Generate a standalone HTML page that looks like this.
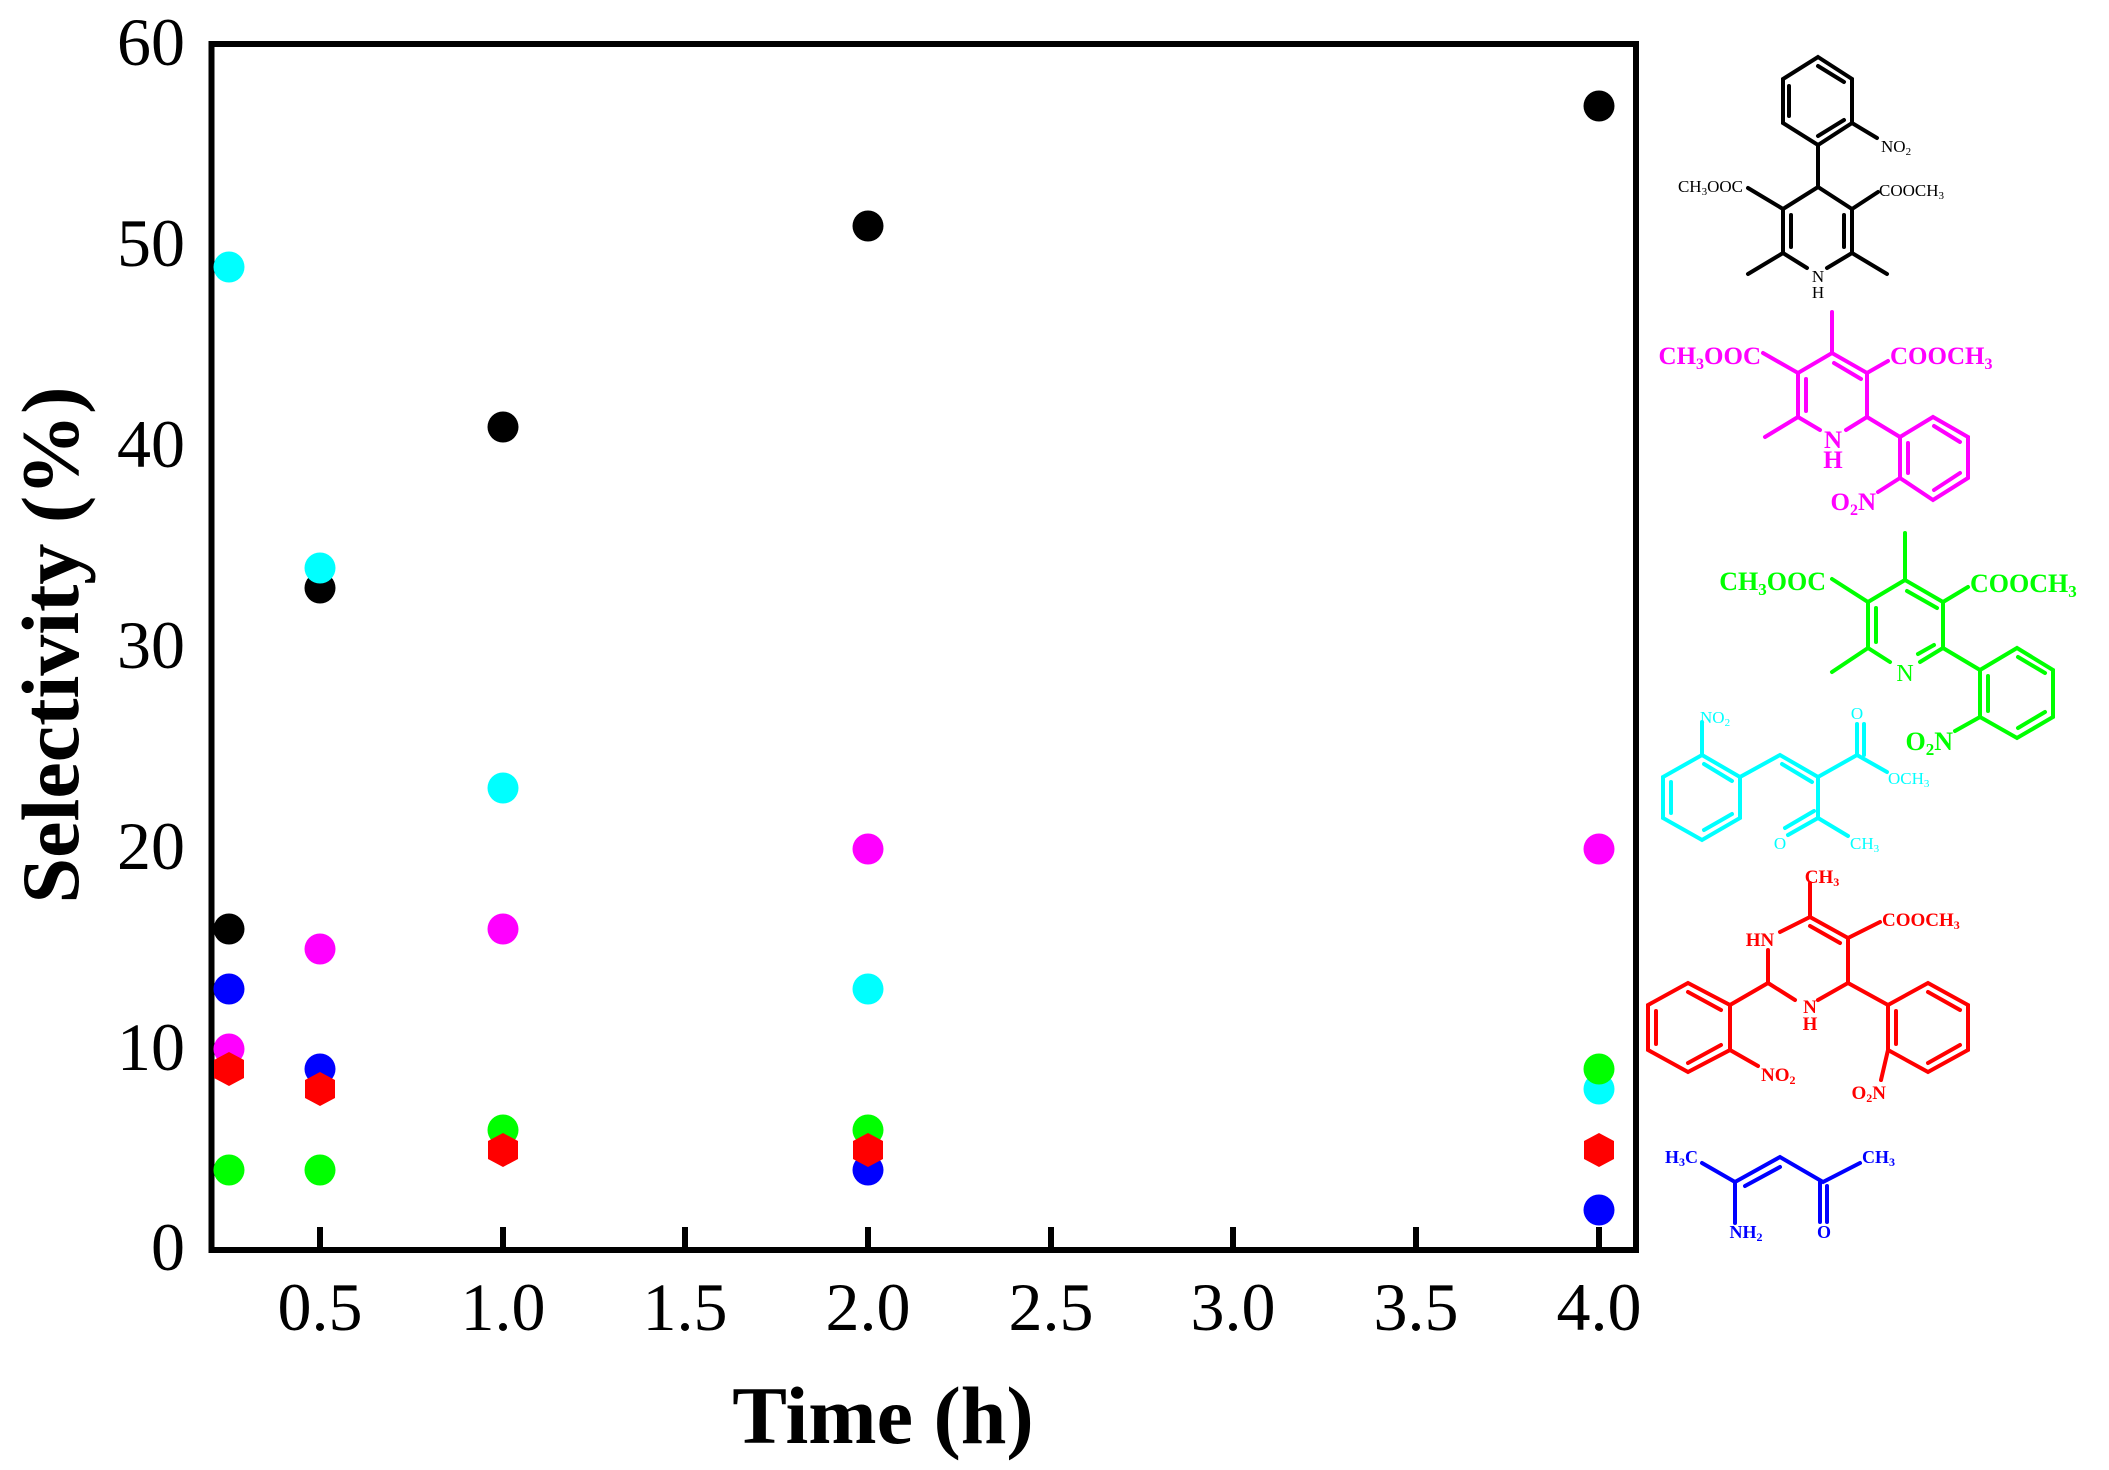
<!DOCTYPE html>
<html><head><meta charset="utf-8"><style>
html,body{margin:0;padding:0;background:#fff;}
svg{display:block;}
text{font-family:"Liberation Serif",serif;}
</style></head><body>
<svg width="2109" height="1470" viewBox="0 0 2109 1470" xmlns="http://www.w3.org/2000/svg">
<!-- axes frame -->
<rect x="211.5" y="44" width="1424.5" height="1206" fill="none" stroke="#000" stroke-width="6"/>
<!-- x ticks -->
<g stroke="#000" stroke-width="6">
<line x1="320" y1="1247" x2="320" y2="1227"/>
<line x1="503" y1="1247" x2="503" y2="1227"/>
<line x1="685" y1="1247" x2="685" y2="1227"/>
<line x1="868" y1="1247" x2="868" y2="1227"/>
<line x1="1051" y1="1247" x2="1051" y2="1227"/>
<line x1="1233" y1="1247" x2="1233" y2="1227"/>
<line x1="1416" y1="1247" x2="1416" y2="1227"/>
<line x1="1599" y1="1247" x2="1599" y2="1227"/>
</g>
<!-- x tick labels -->
<g font-size="68" text-anchor="middle">
<text x="320" y="1330">0.5</text>
<text x="503" y="1330">1.0</text>
<text x="685" y="1330">1.5</text>
<text x="868" y="1330">2.0</text>
<text x="1051" y="1330">2.5</text>
<text x="1233" y="1330">3.0</text>
<text x="1416" y="1330">3.5</text>
<text x="1599" y="1330">4.0</text>
</g>
<!-- y tick labels -->
<g font-size="68" text-anchor="end">
<text x="185" y="1270">0</text>
<text x="185" y="1070">10</text>
<text x="185" y="869">20</text>
<text x="185" y="668">30</text>
<text x="185" y="467">40</text>
<text x="185" y="266">50</text>
<text x="185" y="65">60</text>
</g>
<text x="883" y="1443" font-size="82" font-weight="bold" text-anchor="middle">Time (h)</text>
<text transform="translate(78,645) rotate(-90)" font-size="82" font-weight="bold" text-anchor="middle">Selectivity (%)</text>

<!-- data: y(v)=1250-20.07v ; x: 0.25=229,0.5=320,1=503,2=868,4=1599 -->
<g>
<!-- black -->
<g fill="#000">
<circle cx="229" cy="929" r="15.5"/><circle cx="320" cy="588" r="15.5"/><circle cx="503" cy="427" r="15.5"/><circle cx="868" cy="226" r="15.5"/><circle cx="1599" cy="106" r="15.5"/>
</g>
<!-- cyan -->
<g fill="#00ffff">
<circle cx="229" cy="267" r="15.5"/><circle cx="320" cy="568" r="15.5"/><circle cx="503" cy="788" r="15.5"/><circle cx="868" cy="989" r="15.5"/><circle cx="1599" cy="1089" r="15.5"/>
</g>
<!-- magenta -->
<g fill="#ff00ff">
<circle cx="229" cy="1049" r="15.5"/><circle cx="320" cy="949" r="15.5"/><circle cx="503" cy="929" r="15.5"/><circle cx="868" cy="849" r="15.5"/><circle cx="1599" cy="849" r="15.5"/>
</g>
<!-- blue -->
<g fill="#0000ff">
<circle cx="229" cy="989" r="15.5"/><circle cx="320" cy="1069" r="15.5"/><circle cx="868" cy="1170" r="15.5"/><circle cx="1599" cy="1210" r="15.5"/>
</g>
<!-- green -->
<g fill="#00ff00">
<circle cx="229" cy="1170" r="15.5"/><circle cx="320" cy="1170" r="15.5"/><circle cx="503" cy="1130" r="15.5"/><circle cx="868" cy="1130" r="15.5"/><circle cx="1599" cy="1069" r="15.5"/>
</g>
<!-- red hexagons -->
<g fill="#ff0000">
<polygon points="229,1052 244,1060 244,1078 229,1086 214,1078 214,1060"/>
<polygon points="320,1072 335,1080 335,1098 320,1106 305,1098 305,1080"/>
<polygon points="503,1133 518,1141 518,1159 503,1167 488,1159 488,1141"/>
<polygon points="868,1133 883,1141 883,1159 868,1167 853,1159 853,1141"/>
<polygon points="1599,1133 1614,1141 1614,1159 1599,1167 1584,1159 1584,1141"/>
</g>
</g>

<!-- BLACK structure -->
<g stroke="#000" stroke-width="4" fill="none" stroke-linecap="round">
<polygon points="1818,57 1852,79 1852,123 1818,145 1783,123 1783,79"/>
<line x1="1789" y1="86" x2="1789" y2="116"/><line x1="1818" y1="66" x2="1844" y2="82"/><line x1="1818" y1="136" x2="1844" y2="120"/>
<line x1="1852" y1="123" x2="1877" y2="138"/>
<line x1="1818" y1="145" x2="1818" y2="187"/>
<polyline points="1748,188 1783,209 1818,187 1852,209 1878,192"/>
<line x1="1783" y1="209" x2="1783" y2="253"/><line x1="1791" y1="215" x2="1791" y2="247"/>
<line x1="1852" y1="209" x2="1852" y2="253"/><line x1="1844" y1="215" x2="1844" y2="247"/>
<polyline points="1748,274 1783,253 1807,268"/>
<polyline points="1887,274 1852,253 1827,268"/>
</g>
<g fill="#000" font-size="17">
<text x="1881" y="152">NO<tspan font-size="11" dy="3">2</tspan></text>
<text x="1743" y="192" text-anchor="end">CH<tspan font-size="11" dy="3">3</tspan><tspan dy="-3">OOC</tspan></text>
<text x="1879" y="196">COOCH<tspan font-size="11" dy="3">3</tspan></text>
<text x="1818" y="282" text-anchor="middle">N</text>
<text x="1818" y="298" text-anchor="middle">H</text>
</g>

<!-- MAGENTA structure -->
<g stroke="#ff00ff" stroke-width="4" fill="none" stroke-linecap="round">
<line x1="1832" y1="312" x2="1832" y2="353"/>
<polyline points="1763,353 1798,373 1832,353 1867,373 1888,361"/>
<line x1="1834" y1="363" x2="1861" y2="379"/>
<line x1="1798" y1="373" x2="1798" y2="417"/><line x1="1806" y1="379" x2="1806" y2="411"/>
<polyline points="1765,437 1798,417 1820,430"/>
<polyline points="1846,430 1867,417 1867,373"/>
<line x1="1867" y1="417" x2="1900" y2="437"/>
<polygon points="1900,437 1933,417 1968,437 1968,478 1933,500 1900,478"/>
<line x1="1934" y1="426" x2="1960" y2="442"/><line x1="1960" y1="473" x2="1934" y2="490"/><line x1="1908" y1="443" x2="1908" y2="473"/>
<line x1="1900" y1="478" x2="1878" y2="492"/>
</g>
<g fill="#ff00ff" font-size="25" font-weight="bold">
<text x="1761" y="364" text-anchor="end">CH<tspan font-size="16" dy="5">3</tspan><tspan dy="-5">OOC</tspan></text>
<text x="1890" y="364">COOCH<tspan font-size="16" dy="5">3</tspan></text>
<text x="1833" y="448" text-anchor="middle">N</text>
<text x="1833" y="468" text-anchor="middle">H</text>
<text x="1876" y="510" text-anchor="end">O<tspan font-size="16" dy="5">2</tspan><tspan dy="-5">N</tspan></text>
</g>

<!-- GREEN structure -->
<g stroke="#00ff00" stroke-width="4" fill="none" stroke-linecap="round">
<line x1="1905" y1="533" x2="1905" y2="580"/>
<polyline points="1832,579 1868,602 1905,580 1943,602 1968,587"/>
<line x1="1907" y1="591" x2="1937" y2="608"/>
<line x1="1868" y1="602" x2="1868" y2="648"/><line x1="1876" y1="608" x2="1876" y2="642"/>
<polyline points="1832,672 1868,648 1890,662"/>
<polyline points="1920,662 1943,648 1943,602"/>
<line x1="1918" y1="654" x2="1934" y2="645"/>
<line x1="1943" y1="648" x2="1980" y2="670"/>
<polygon points="1980,670 2017,648 2053,670 2053,717 2017,738 1980,717"/>
<line x1="2018" y1="657" x2="2045" y2="673"/><line x1="2045" y1="712" x2="2018" y2="728"/><line x1="1988" y1="676" x2="1988" y2="711"/>
<line x1="1980" y1="717" x2="1955" y2="731"/>
</g>
<g fill="#00ff00" font-size="26" font-weight="bold">
<text x="1826" y="590" text-anchor="end">CH<tspan font-size="17" dy="5">3</tspan><tspan dy="-5">OOC</tspan></text>
<text x="1970" y="592">COOCH<tspan font-size="17" dy="5">3</tspan></text>
<text x="1953" y="750" text-anchor="end">O<tspan font-size="17" dy="5">2</tspan><tspan dy="-5">N</tspan></text>
</g>
<text x="1905" y="681" fill="#00ff00" font-size="24" text-anchor="middle">N</text>

<!-- CYAN structure -->
<g stroke="#00ffff" stroke-width="4" fill="none" stroke-linecap="round">
<line x1="1702" y1="722" x2="1702" y2="755"/>
<polygon points="1702,755 1740,777 1740,818 1702,840 1663,818 1663,777"/>
<line x1="1704" y1="764" x2="1732" y2="781"/><line x1="1732" y1="814" x2="1704" y2="830"/><line x1="1671" y1="782" x2="1671" y2="813"/>
<polyline points="1740,777 1780,755 1818,777 1857,755 1887,772"/>
<line x1="1782" y1="764" x2="1812" y2="782"/>
<line x1="1857" y1="755" x2="1857" y2="724"/><line x1="1864" y1="755" x2="1864" y2="724"/>
<polyline points="1818,777 1818,818 1848,836"/>
<line x1="1818" y1="818" x2="1788" y2="835"/><line x1="1814" y1="811" x2="1785" y2="828"/>
</g>
<g fill="#00ffff" font-size="17">
<text x="1700" y="723">NO<tspan font-size="11" dy="3">2</tspan></text>
<text x="1857" y="719" text-anchor="middle">O</text>
<text x="1888" y="784">OCH<tspan font-size="11" dy="3">3</tspan></text>
<text x="1850" y="849">CH<tspan font-size="11" dy="3">3</tspan></text>
<text x="1780" y="849" text-anchor="middle">O</text>
</g>

<!-- RED structure -->
<g stroke="#ff0000" stroke-width="4" fill="none" stroke-linecap="round">
<line x1="1810" y1="883" x2="1810" y2="917"/>
<polyline points="1780,932 1810,917 1848,938 1880,922"/>
<line x1="1810" y1="926" x2="1840" y2="943"/>
<polyline points="1848,938 1848,983 1818,1000"/>
<polyline points="1795,1000 1768,983 1768,950"/>
<line x1="1768" y1="983" x2="1730" y2="1005"/>
<polygon points="1730,1005 1688,983 1648,1005 1648,1050 1688,1072 1730,1050"/>
<line x1="1688" y1="992" x2="1721" y2="1010"/><line x1="1721" y1="1045" x2="1688" y2="1063"/><line x1="1656" y1="1011" x2="1656" y2="1044"/>
<line x1="1730" y1="1050" x2="1758" y2="1066"/>
<line x1="1848" y1="983" x2="1888" y2="1005"/>
<polygon points="1888,1005 1928,983 1968,1005 1968,1050 1928,1072 1888,1050"/>
<line x1="1928" y1="992" x2="1960" y2="1010"/><line x1="1960" y1="1045" x2="1928" y2="1063"/><line x1="1896" y1="1011" x2="1896" y2="1044"/>
<line x1="1888" y1="1050" x2="1881" y2="1080"/>
</g>
<g fill="#ff0000" font-size="19" font-weight="bold">
<text x="1822" y="883" text-anchor="middle">CH<tspan font-size="12" dy="3">3</tspan></text>
<text x="1882" y="926">COOCH<tspan font-size="12" dy="3">3</tspan></text>
<text x="1760" y="946" text-anchor="middle">HN</text>
<text x="1810" y="1013" text-anchor="middle">N</text>
<text x="1810" y="1030" text-anchor="middle">H</text>
<text x="1761" y="1081">NO<tspan font-size="12" dy="3">2</tspan></text>
<text x="1886" y="1099" text-anchor="end">O<tspan font-size="12" dy="3">2</tspan><tspan dy="-3">N</tspan></text>
</g>

<!-- BLUE structure -->
<g stroke="#0000ff" stroke-width="4" fill="none" stroke-linecap="round">
<polyline points="1702,1163 1735,1182 1780,1157 1823,1182 1860,1163"/>
<line x1="1745" y1="1186" x2="1780" y2="1167"/>
<line x1="1735" y1="1182" x2="1735" y2="1223"/>
<line x1="1820" y1="1182" x2="1820" y2="1222"/><line x1="1827" y1="1186" x2="1827" y2="1222"/>
</g>
<g fill="#0000ff" font-size="18" font-weight="bold">
<text x="1698" y="1163" text-anchor="end">H<tspan font-size="12" dy="3">3</tspan><tspan dy="-3">C</tspan></text>
<text x="1862" y="1163">CH<tspan font-size="12" dy="3">3</tspan></text>
<text x="1746" y="1238" text-anchor="middle">NH<tspan font-size="12" dy="3">2</tspan></text>
<text x="1824" y="1238" text-anchor="middle">O</text>
</g>
</svg>
</body></html>
